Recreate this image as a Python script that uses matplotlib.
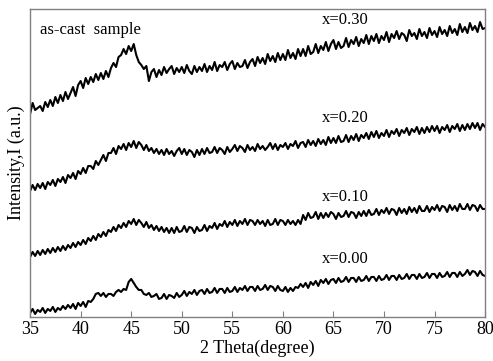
import numpy as np
import matplotlib
matplotlib.use("Agg")
from matplotlib import pyplot as plt

# XRD patterns, as-cast samples (intensity in a.u., offset per curve)
two_theta = np.arange(35, 80.01, 0.25)

I_030 = [203, 214, 207, 209, 211, 206, 215, 210, 217, 211, 220, 214,
         222, 216, 225, 218, 224, 230, 221, 232, 236, 229, 239, 233,
         240, 235, 243, 237, 244, 238, 246, 240, 249, 254, 250, 260,
         262, 268, 263, 271, 266, 273, 262, 255, 252, 248, 251, 236,
         245, 248, 240, 247, 242, 250, 244, 248, 251, 243, 249, 245,
         250, 244, 252, 246, 243, 251, 245, 250, 246, 253, 245, 251,
         247, 255, 246, 252, 250, 255, 247, 253, 256, 248, 254, 250,
         251, 257, 249, 255, 258, 251, 260, 254, 259, 253, 263, 256,
         261, 255, 264, 257, 263, 257, 267, 259, 264, 258, 268, 261,
         268, 261, 271, 263, 265, 273, 264, 271, 267, 275, 266, 273,
         277, 268, 275, 269, 271, 279, 270, 277, 273, 280, 271, 278,
         274, 282, 273, 281, 276, 283, 274, 281, 277, 285, 275, 283,
         279, 286, 278, 284, 282, 276, 287, 281, 284, 278, 288, 281,
         285, 279, 289, 282, 286, 280, 290, 283, 287, 281, 291, 284,
         288, 282, 293, 285, 290, 284, 294, 287, 291, 285, 295, 288,
         289]

I_020 = [126, 132, 127, 133, 129, 134, 128, 135, 132, 137, 131, 138,
         135, 140, 134, 142, 139, 144, 138, 146, 143, 149, 144, 151,
         151, 148, 156, 152, 157, 162, 156, 164, 164, 169, 163, 171,
         168, 173, 167, 174, 170, 176, 169, 175, 172, 167, 172, 166,
         169, 164, 168, 163, 167, 162, 168, 163, 166, 161, 166, 169,
         163, 168, 162, 167, 165, 160, 167, 162, 168, 163, 169, 164,
         165, 170, 164, 169, 167, 163, 170, 165, 168, 172, 166, 171,
         169, 165, 172, 167, 170, 166, 173, 168, 171, 167, 170, 174,
         168, 173, 167, 172, 170, 174, 168, 173, 171, 176, 169, 174,
         175, 170, 177, 172, 176, 171, 178, 173, 177, 172, 180, 174,
         179, 174, 181, 175, 176, 182, 175, 181, 177, 183, 176, 182,
         179, 184, 178, 185, 180, 186, 179, 184, 181, 187, 180, 186,
         183, 188, 181, 187, 184, 189, 182, 188, 185, 190, 183, 189,
         184, 190, 185, 191, 186, 191, 184, 190, 187, 192, 185, 191,
         188, 193, 186, 192, 187, 193, 188, 194, 189, 194, 187, 193,
         190]

I_010 = [60, 65, 61, 66, 62, 67, 63, 68, 64, 69, 65, 70,
         66, 71, 67, 72, 69, 74, 70, 75, 72, 77, 73, 79,
         76, 81, 77, 83, 80, 85, 81, 87, 85, 90, 86, 92,
         89, 94, 90, 96, 93, 98, 92, 97, 94, 90, 95, 89,
         92, 87, 91, 86, 90, 85, 89, 84, 89, 84, 90, 85,
         86, 91, 85, 90, 89, 84, 90, 86, 87, 92, 86, 91,
         89, 94, 88, 93, 91, 96, 90, 95, 92, 97, 91, 96,
         93, 98, 92, 97, 96, 92, 97, 93, 96, 91, 97, 92,
         93, 98, 92, 97, 96, 92, 97, 93, 96, 92, 97, 93,
         102, 97, 104, 99, 100, 105, 98, 104, 99, 104, 100, 105,
         103, 98, 104, 100, 101, 106, 100, 105, 104, 99, 105, 101,
         106, 101, 107, 102, 103, 108, 102, 107, 104, 109, 103, 108,
         107, 102, 109, 104, 108, 103, 110, 105, 109, 104, 111, 106,
         106, 111, 105, 110, 107, 112, 106, 111, 110, 105, 112, 107,
         111, 106, 113, 108, 108, 113, 107, 112, 111, 106, 112, 108,
         108]

I_000 = [4, 8, 3, 7, 5, 9, 4, 8, 6, 10, 5, 9,
         7, 11, 8, 12, 9, 13, 8, 14, 11, 15, 10, 16,
         15, 18, 23, 24, 21, 24, 20, 23, 23, 21, 25, 27,
         25, 28, 27, 35, 38, 34, 30, 27, 27, 23, 22, 24,
         20, 21, 23, 18, 19, 23, 18, 22, 21, 19, 24, 20,
         22, 26, 21, 25, 23, 27, 22, 26, 27, 23, 28, 24,
         25, 29, 24, 28, 28, 24, 29, 25, 26, 30, 25, 29,
         27, 31, 26, 30, 30, 26, 31, 27, 28, 32, 27, 31,
         30, 26, 31, 27, 26, 30, 25, 29, 26, 30, 29, 33,
         30, 34, 29, 35, 32, 36, 31, 37, 34, 38, 33, 37,
         38, 34, 39, 35, 36, 40, 35, 39, 39, 35, 40, 36,
         37, 41, 36, 40, 40, 36, 41, 37, 38, 42, 37, 41,
         41, 37, 42, 38, 39, 43, 38, 42, 42, 38, 43, 39,
         40, 44, 39, 43, 43, 39, 44, 40, 41, 45, 40, 44,
         44, 40, 45, 41, 43, 47, 42, 46, 45, 41, 46, 42,
         41]

curves = [I_000, I_010, I_020, I_030]
labels = ["x=0.00", "x=0.10", "x=0.20", "x=0.30"]
label_y = [58, 120, 199, 297]

plt.rcParams['font.family'] = ['Liberation Serif', 'DejaVu Serif']

fig = plt.figure(figsize=(4.93, 3.61), dpi=100)
ax = fig.add_axes([0.061, 0.122, 0.923, 0.853])

for I in curves:
    ax.plot(two_theta, I, color='black', lw=1.5)

for lab, yy in zip(labels, label_y):
    ax.text(66.2, yy, lab, fontsize=12, ha='center', va='center')
ax.text(36.0, 287, "as-cast  sample", fontsize=12, ha='left', va='center')

ax.set_xlim(35, 80)
ax.set_ylim(0, 308)
ax.set_xticks(np.arange(35, 81, 5))
ax.set_yticks([])
ax.tick_params(axis='x', direction='in', length=4, color='#808080',
               labelsize=13, pad=3)
for s in ax.spines.values():
    s.set_color('#808080')
    s.set_linewidth(1.0)

ax.set_xlabel("2 Theta(degree)", fontsize=13, labelpad=1)
ax.set_ylabel("Intensity,I (a.u.)", fontsize=13, labelpad=4)

fig.savefig("out.png", dpi=100)
